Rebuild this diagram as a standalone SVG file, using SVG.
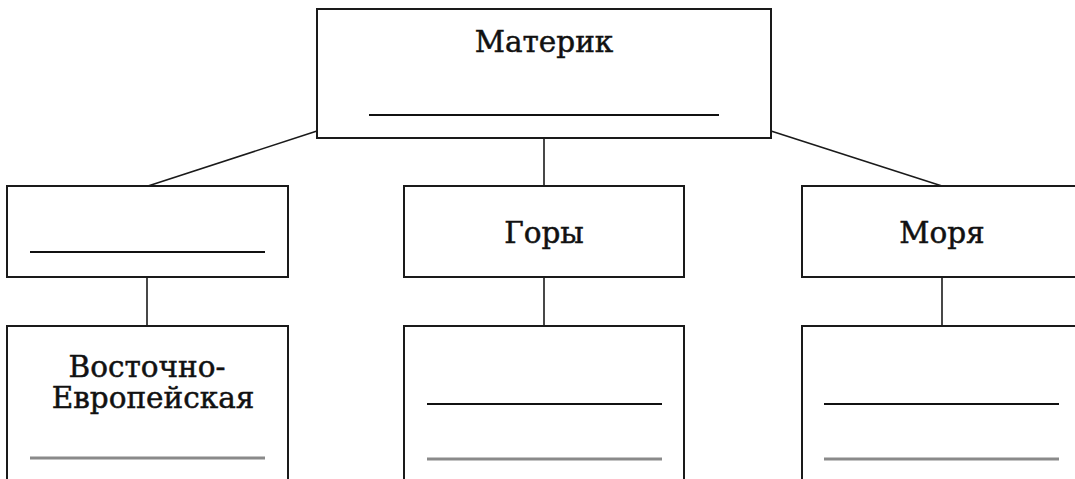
<svg xmlns="http://www.w3.org/2000/svg" width="1075" height="479" viewBox="0 0 1075 479">
<style>
.box{fill:#fff;stroke:#1a1a1a;stroke-width:2}
.conn{stroke:#1a1a1a;stroke-width:1.6;fill:none}
.ul{stroke:#111;stroke-width:2}
.ulg{stroke:#8a8a8a;stroke-width:3}
.t{font-family:"DejaVu Serif","Liberation Serif",serif;font-size:29.5px;fill:#111;stroke:#111;stroke-width:0.5;text-anchor:middle}
</style>
<rect width="1075" height="479" fill="#fff"/>
<g id="connectors">
<line class="conn" x1="317" y1="131" x2="148" y2="186"/>
<line class="conn" x1="544" y1="138" x2="544" y2="186"/>
<line class="conn" x1="771" y1="131" x2="942" y2="186"/>
<line class="conn" x1="147" y1="277" x2="147" y2="326"/>
<line class="conn" x1="544" y1="277" x2="544" y2="326"/>
<line class="conn" x1="942" y1="277" x2="942" y2="326"/>
</g>
<g id="materik">
<rect class="box" x="317" y="9" width="454" height="129"/>
<text class="t" x="544" y="52">Материк</text>
<line class="ul" x1="369" y1="115" x2="719" y2="115"/>
</g>
<g id="left-mid">
<rect class="box" x="7" y="186" width="281" height="91"/>
<line class="ul" x1="30" y1="252" x2="265" y2="252"/>
</g>
<g id="gory">
<rect class="box" x="404" y="186" width="280" height="91"/>
<text class="t" x="544" y="243">Горы</text>
</g>
<g id="morya">
<rect class="box" x="802" y="186" width="280" height="91"/>
<text class="t" x="942" y="243">Моря</text>
</g>
<g id="left-bottom">
<rect class="box" x="7" y="326" width="281" height="160"/>
<text class="t" x="147" y="377">Восточно-</text>
<text class="t" x="153" y="408">Европейская</text>
<line class="ulg" x1="30" y1="458" x2="265" y2="458"/>
</g>
<g id="mid-bottom">
<rect class="box" x="404" y="326" width="280" height="160"/>
<line class="ul" x1="427" y1="404" x2="662" y2="404"/>
<line class="ulg" x1="427" y1="459" x2="662" y2="459"/>
</g>
<g id="right-bottom">
<rect class="box" x="802" y="326" width="280" height="160"/>
<line class="ul" x1="824" y1="404" x2="1059" y2="404"/>
<line class="ulg" x1="824" y1="459" x2="1059" y2="459"/>
</g>
</svg>
